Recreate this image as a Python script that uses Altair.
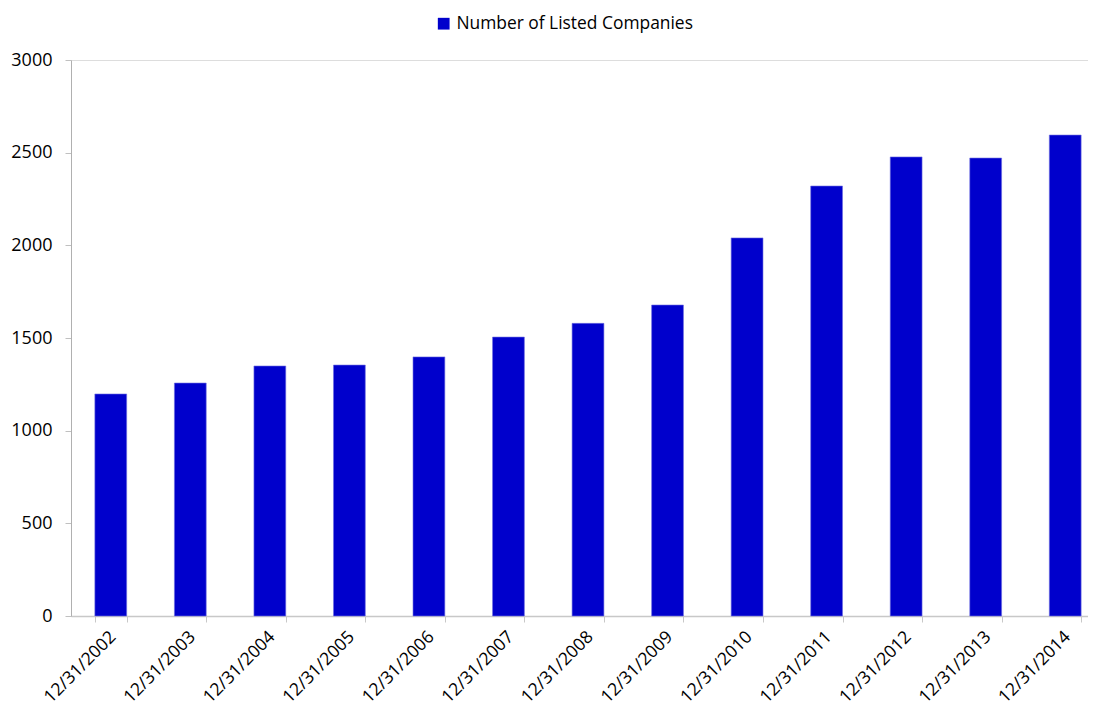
import altair as alt
import pandas as pd

dates = ["12/31/2002", "12/31/2003", "12/31/2004", "12/31/2005", "12/31/2006",
         "12/31/2007", "12/31/2008", "12/31/2009", "12/31/2010", "12/31/2011",
         "12/31/2012", "12/31/2013", "12/31/2014"]
companies = [1198, 1257, 1349, 1354, 1398, 1505, 1579, 1678, 2040, 2320, 2477, 2471, 2595]
series_name = "Number of Listed Companies"

df = pd.DataFrame({"date": dates, "value": companies, "series": series_name})

FONT = "Open Sans"

chart = alt.Chart(df).mark_bar(color="#0000CC", stroke="#6f6fe0", strokeWidth=0.6).encode(
    x=alt.X("date:N", sort=dates, title=None,
            scale=alt.Scale(paddingInner=0.6, paddingOuter=0.3),
            axis=alt.Axis(labelAngle=-45, labelFontSize=17.5, labelFont=FONT, labelColor="#000000",
                          tickBand="extent", tickSize=6, tickColor="#c8c8c8",
                          domainColor="#c8c8c8", domainWidth=1.5, labelPadding=12,
                          labelOffset=2,
                          labelAlign="right", labelBaseline="middle", grid=False,
                          labelLimit=0)),
    y=alt.Y("value:Q", title=None,
            scale=alt.Scale(domain=[0, 3000]),
            axis=alt.Axis(values=[0, 500, 1000, 1500, 2000, 2500, 3000], format="d",
                          labelFontSize=18, labelFont=FONT, labelColor="#000000",
                          tickSize=6, tickColor="#c0c0c0", domainColor="#b0b0b0",
                          labelPadding=13, grid=False)),
    color=alt.Color("series:N", scale=alt.Scale(range=["#0000CC"]),
                    legend=alt.Legend(title=None, orient="none", legendX=364, legendY=-45,
                                      symbolType="square", symbolSize=138,
                                      symbolStrokeWidth=0, labelLimit=0,
                                      labelFontSize=17.4, labelFont=FONT, labelColor="#000000",
                                      labelOffset=4)),
).properties(
    width=1034, height=556,
    autosize=alt.AutoSizeParams(type="none"),
    padding={"left": 63, "top": 52, "right": -17, "bottom": 95},
).configure_view(stroke=None).configure(background="white")

chart.save("out.html", embed_options={"renderer": "svg", "actions": False})
